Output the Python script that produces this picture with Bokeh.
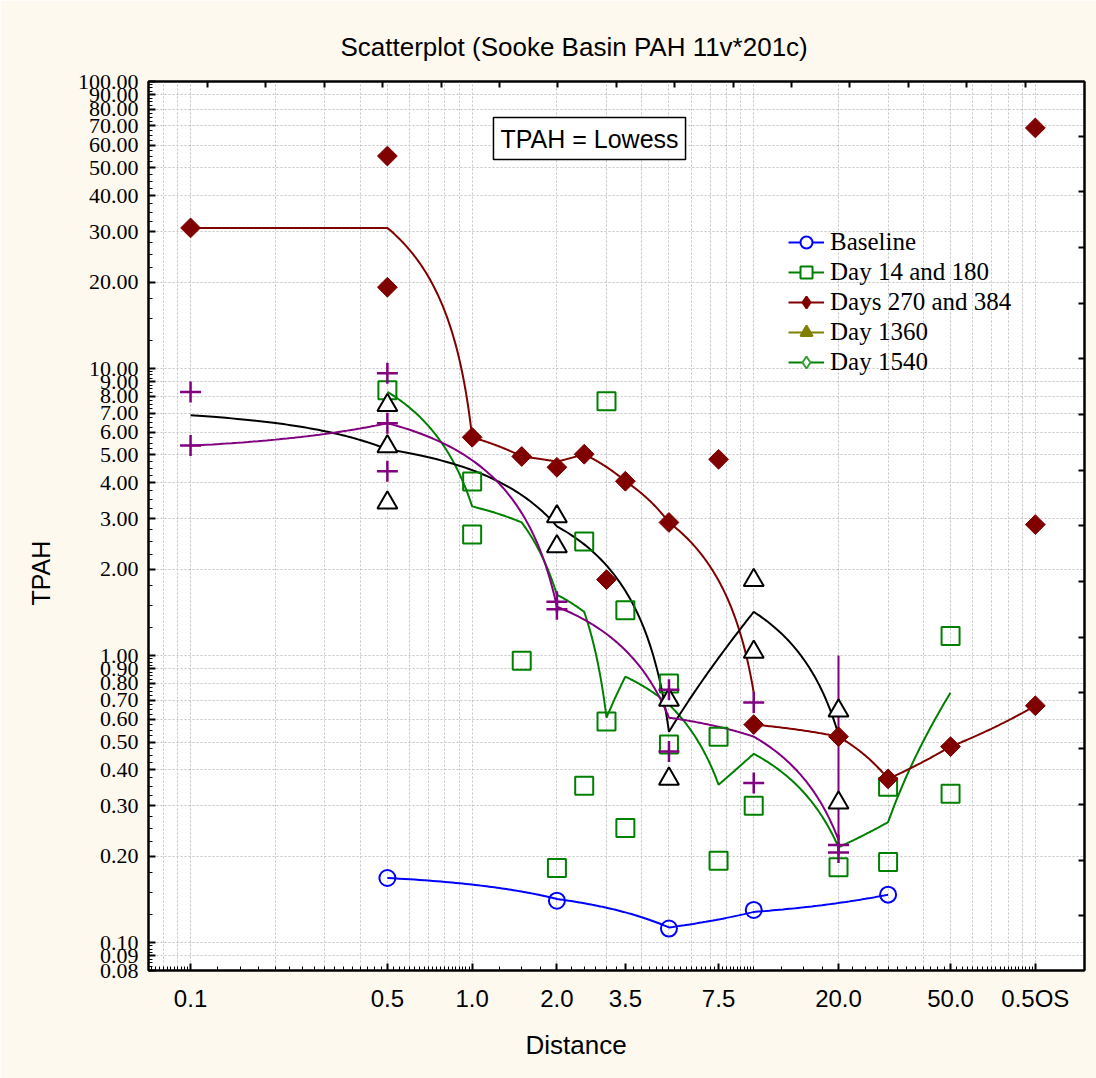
import numpy as np
from bokeh.plotting import figure
from bokeh.models import (FixedTicker, LogAxis, Legend, LegendItem, Label, Title,
                          PrintfTickFormatter, Range1d, CustomLabelingPolicy)
from bokeh.embed import file_html
from bokeh.resources import INLINE

# ---------------- data ----------------
x_tick_values = [0.1, 0.5, 1.0, 2.0, 3.5, 7.5, 20.0, 50.0, 100.0]
x_tick_labels = ["0.1", "0.5", "1.0", "2.0", "3.5", "7.5", "20.0", "50.0", "0.5OS"]
y_tick_values = [0.08, 0.09, 0.1, 0.2, 0.3, 0.4, 0.5, 0.6, 0.7, 0.8, 0.9,
                 1, 2, 3, 4, 5, 6, 7, 8, 9, 10, 20, 30, 40, 50, 60, 70, 80, 90, 100]

# Baseline (blue circles)
base_x = [0.5, 2.0, 5.0, 10.0, 30.0]
base_y = [0.168, 0.140, 0.112, 0.130, 0.147]
base_fit_x = [0.5, 2.0, 5.0, 10.0, 30.0]
base_fit_y = [0.168, 0.142, 0.113, 0.128, 0.147]

# Day 14 and 180 (green squares)
d14_x = [0.5, 1.0, 1.0, 1.5, 2.0, 2.5, 2.5, 3.0, 3.0, 3.5, 3.5, 5.0, 5.0,
         7.5, 7.5, 10.0, 20.0, 30.0, 30.0, 50.0, 50.0]
d14_y = [8.4, 4.04, 2.64, 0.96, 0.182, 2.50, 0.352, 7.69, 0.589, 1.44, 0.251,
         0.80, 0.49, 0.522, 0.193, 0.300, 0.183, 0.349, 0.191, 1.17, 0.330]
d14_fit_x = [0.5, 1.0, 1.5, 2.0, 2.5, 3.0, 3.5, 5.0, 7.5, 10.0, 20.0, 30.0, 50.0]
d14_fit_y = [8.3, 3.31, 2.91, 1.63, 1.42, 0.608, 0.845, 0.675, 0.355, 0.455,
             0.215, 0.263, 0.743]

# Days 270 and 384 (dark red diamonds)
d270_x = [0.1, 0.5, 0.5, 1.0, 1.5, 2.0, 2.5, 3.0, 3.5, 5.0, 7.5, 10.0, 20.0,
          30.0, 50.0, 100.0, 100.0, 100.0]
d270_y = [30.9, 55.0, 19.2, 5.76, 4.94, 4.53, 5.03, 1.84, 4.05, 2.91, 4.83,
          0.575, 0.522, 0.372, 0.482, 68.9, 2.86, 0.669]
d270_fit1_x = [0.1, 0.5, 1.0, 1.5, 2.0, 2.5, 3.5, 5.0, 10.0]
d270_fit1_y = [30.9, 30.9, 5.76, 4.94, 4.74, 5.03, 4.05, 2.91, 0.743]
d270_fit2_x = [10.0, 20.0, 30.0, 50.0, 100.0]
d270_fit2_y = [0.575, 0.522, 0.372, 0.482, 0.669]

# Day 1360 (open black triangles)
d1360_x = [0.5, 0.5, 0.5, 2.0, 2.0, 5.0, 5.0, 10.0, 10.0, 20.0, 20.0]
d1360_y = [7.45, 5.35, 3.41, 3.05, 2.40, 0.70, 0.372, 1.83, 1.03, 0.643, 0.307]
d1360_fit_x = [0.1, 0.5, 2.0, 5.0, 10.0, 20.0]
d1360_fit_y = [6.87, 5.23, 2.82, 0.543, 1.42, 0.53]

# Day 1540 (purple pluses)
d1540_x = [0.1, 0.1, 0.5, 0.5, 0.5, 2.0, 2.0, 5.0, 5.0, 10.0, 10.0, 20.0, 20.0]
d1540_y = [8.29, 5.39, 9.63, 6.45, 4.39, 1.54, 1.45, 0.761, 0.463, 0.686,
           0.360, 0.219, 0.206]
d1540_fit_x = [0.1, 0.5, 2.0, 5.0, 10.0, 20.0, 20.0]
d1540_fit_y = [5.39, 6.45, 1.48, 0.608, 0.522, 0.228, 1.0]

# ---------------- helpers ----------------
def straight_in_data_space(xs, ys, n=60):
    """The original draws straight segments in linear data space between the
    fitted values; on log axes they appear as curves. Sample each segment."""
    px, py = [], []
    for i in range(len(xs) - 1):
        t = np.linspace(0.0, 1.0, n, endpoint=(i == len(xs) - 2))
        px.extend(xs[i] + (xs[i + 1] - xs[i]) * t)
        py.extend(ys[i] + (ys[i + 1] - ys[i]) * t)
    return px, py


def decade_multiples(lo_exp, hi_exp):
    out = []
    for e in range(lo_exp, hi_exp + 1):
        for k in range(1, 10):
            out.append(round(k * 10.0 ** e, 10))
    return out


def quarter_steps(vals):
    out = []
    for a, b in zip(vals[:-1], vals[1:]):
        for f in (0.25, 0.5, 0.75):
            out.append(a + (b - a) * f)
    return out


def no_labels():
    return CustomLabelingPolicy(
        code="for (const i of indices) { indices.unset(i) } return indices")


BG = "#FEF9EF"
BLUE = "#0000FF"
GREEN = "#008000"
DRED = "#800000"
PURPLE = "#800080"
OLIVE = "#808000"
SANS = "Liberation Sans"
SERIF = "Liberation Serif"

p = figure(width=1096, height=1078, x_axis_type="log", y_axis_type="log",
           x_range=Range1d(0.0709, 149.5), y_range=Range1d(0.08, 100),
           output_backend="svg", toolbar_location=None,
           min_border_left=148, min_border_right=12, min_border_top=81,
           min_border_bottom=108, background_fill_color="white",
           border_fill_color=BG)
p.outline_line_color = "black"
p.outline_line_width = 2

# title
p.title.text = "Scatterplot (Sooke Basin PAH 11v*201c)"
p.title.align = "left"
p.title.offset = 192
p.title.text_font = SANS
p.title.text_font_size = "26px"
p.title.text_font_style = "normal"
p.title.text_color = "black"
p.title.standoff = 18

# grids
grid_vals = [v for v in decade_multiples(-2, 2) if 0.07 <= v <= 150]
p.xgrid.ticker = FixedTicker(ticks=grid_vals)
p.ygrid.ticker = FixedTicker(ticks=y_tick_values)
for g in (p.xgrid, p.ygrid):
    g.grid_line_color = "#C4C4C4"
    g.grid_line_dash = "2 2"
    g.grid_line_width = 1

# x axis
xa = p.xaxis[0]
x_minor = sorted(set([v for v in grid_vals if v not in x_tick_values] +
                     quarter_steps(grid_vals)))
xa.ticker = FixedTicker(ticks=x_tick_values, minor_ticks=x_minor)
xa.major_label_overrides = {v: s for v, s in zip(x_tick_values, x_tick_labels)}
xa.major_label_text_font = SANS
xa.major_label_text_font_size = "24px"
xa.major_label_text_color = "black"
xa.major_label_standoff = 14
xa.axis_line_width = 2
xa.major_tick_in = 7
xa.major_tick_out = 0
xa.minor_tick_in = 4
xa.minor_tick_out = 0
xa.major_tick_line_width = 2

# y axis
ya = p.yaxis[0]
ya.ticker = FixedTicker(ticks=y_tick_values, minor_ticks=quarter_steps(y_tick_values))
ya.formatter = PrintfTickFormatter(format="%.2f")
ya.major_label_text_font = SERIF
ya.major_label_text_font_size = "22px"
ya.major_label_text_color = "black"
ya.major_label_standoff = 10
ya.axis_line_width = 2
ya.major_tick_in = 7
ya.major_tick_out = 0
ya.minor_tick_in = 4
ya.minor_tick_out = 0
ya.major_tick_line_width = 2

# top / right tick-only axes (labels suppressed by the labeling policy)
top_ticks = [10 ** (-0.9396 + 0.2074 * k) for k in range(15)]
right_ticks = [10 ** (1.81 - 0.194 * k) for k in range(17)]
top_ax = LogAxis(ticker=FixedTicker(ticks=top_ticks, minor_ticks=[]),
                 major_label_policy=no_labels(), major_label_standoff=0,
                 major_tick_in=6, major_tick_out=0, minor_tick_in=0,
                 minor_tick_out=0, axis_line_width=2, major_tick_line_width=2)
p.add_layout(top_ax, "above")
right_ax = LogAxis(ticker=FixedTicker(ticks=right_ticks, minor_ticks=[]),
                   major_label_policy=no_labels(), major_label_standoff=0,
                   major_label_text_font_size="0px",
                   major_tick_in=6, major_tick_out=0, minor_tick_in=0,
                   minor_tick_out=0, axis_line_width=2, major_tick_line_width=2)
p.add_layout(right_ax, "right")

# axis titles
p.add_layout(Title(text="Distance", align="left", offset=377,
                   text_font=SANS, text_font_size="26px",
                   text_font_style="normal", text_color="black", standoff=26),
             "below")
p.add_layout(Title(text="TPAH", align="left", offset=365,
                   text_font=SANS, text_font_size="25px",
                   text_font_style="normal", text_color="black", standoff=40),
             "left")

# lowess lines
for fx, fy, col in ((base_fit_x, base_fit_y, BLUE),
                    (d14_fit_x, d14_fit_y, GREEN),
                    (d270_fit1_x, d270_fit1_y, DRED),
                    (d270_fit2_x, d270_fit2_y, DRED),
                    (d1360_fit_x, d1360_fit_y, "black"),
                    (d1540_fit_x, d1540_fit_y, PURPLE)):
    lx, ly = straight_in_data_space(fx, fy)
    p.line(lx, ly, line_color=col, line_width=2)

# markers
p.scatter(base_x, base_y, marker="circle", size=16, line_color=BLUE,
          line_width=2, fill_color=None)
p.scatter(d14_x, d14_y, marker="square", size=18, line_color=GREEN,
          line_width=2, fill_color=None)
p.scatter(d270_x, d270_y, marker="square", angle=np.pi / 4, size=14,
          line_color=DRED, line_width=1, fill_color=DRED)
p.scatter(d1360_x, d1360_y, marker="triangle", size=20, line_color="black",
          line_width=2, fill_color="white")
p.scatter(d1540_x, d1540_y, marker="cross", size=21, line_color=PURPLE,
          line_width=2.5)

# legend (renderers holding a single missing point carry the legend styles)
def legend_pair(col, marker, fill, mcol):
    ln = p.line([np.nan], [np.nan], line_color=col, line_width=2)
    mk = p.scatter([np.nan], [np.nan], marker=marker, line_color=mcol,
                   fill_color=fill, line_width=2)
    return [ln, mk]

items = [
    LegendItem(label="Baseline", renderers=legend_pair(BLUE, "circle", "white", BLUE)),
    LegendItem(label="Day 14 and 180", renderers=legend_pair(GREEN, "square", "white", GREEN)),
    LegendItem(label="Days 270 and 384", renderers=legend_pair(DRED, "diamond", DRED, DRED)),
    LegendItem(label="Day 1360", renderers=legend_pair(OLIVE, "triangle", OLIVE, OLIVE)),
    LegendItem(label="Day 1540", renderers=legend_pair(GREEN, "diamond", "white", "#33A033")),
]
leg = Legend(items=items, location=(640, 593), background_fill_alpha=0,
             border_line_color=None, padding=0, margin=0, spacing=0,
             glyph_width=36, glyph_height=30, label_height=30,
             label_standoff=6, label_text_font=SERIF,
             label_text_font_size="25px", label_text_color="black")
p.add_layout(leg)

# formula box
p.add_layout(Label(x=441, y=832, x_units="screen", y_units="screen",
                   text="TPAH = Lowess", text_align="center",
                   text_baseline="middle", text_font=SANS,
                   text_font_size="25px", text_color="black",
                   border_line_color="black", border_line_width=1.5,
                   background_fill_color="white", padding=7))

open("out.html", "w").write(file_html(p, INLINE))
